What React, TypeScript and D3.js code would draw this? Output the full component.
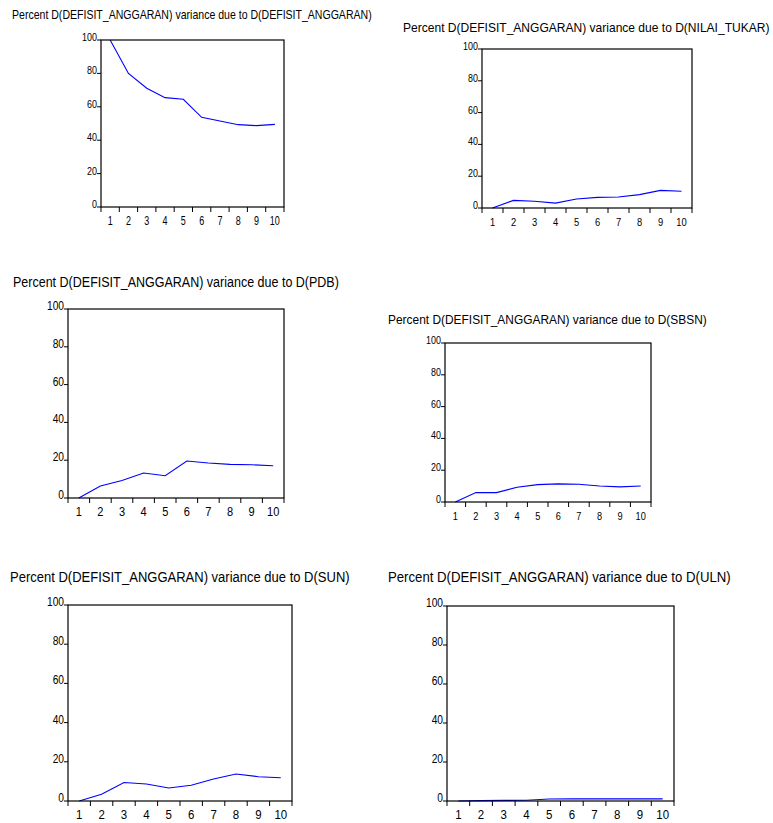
import React from 'react';
import * as d3 from 'd3';

// variance decomposition of D(DEFISIT_ANGGARAN), periods 1..10
const periods = ['1', '2', '3', '4', '5', '6', '7', '8', '9', '10'];
const yTicks = [0, 20, 40, 60, 80, 100];

const shockDefisit = [100, 80.0, 71.1, 65.5, 64.5, 53.7, 51.5, 49.3, 48.7, 49.5];
const shockNilaiTukar = [0, 4.8, 4.2, 3.1, 5.7, 6.7, 6.9, 8.4, 11.1, 10.5];
const shockPdb = [0, 6.3, 9.3, 13.2, 11.8, 19.6, 18.5, 17.8, 17.6, 17.1];
const shockSbsn = [0, 5.9, 5.9, 9.3, 10.9, 11.4, 11.2, 10.1, 9.5, 10.1];
const shockSun = [0, 3.4, 9.4, 8.7, 6.6, 8.0, 11.2, 13.8, 12.4, 11.9];
const shockUln = [0, 0.2, 0.3, 0.4, 1.0, 1.1, 1.1, 1.1, 1.1, 1.1];

const titles = [
  'Percent D(DEFISIT_ANGGARAN) variance due to D(DEFISIT_ANGGARAN)',
  'Percent D(DEFISIT_ANGGARAN) variance due to D(NILAI_TUKAR)',
  'Percent D(DEFISIT_ANGGARAN) variance due to D(PDB)',
  'Percent D(DEFISIT_ANGGARAN) variance due to D(SBSN)',
  'Percent D(DEFISIT_ANGGARAN) variance due to D(SUN)',
  'Percent D(DEFISIT_ANGGARAN) variance due to D(ULN)',
];
const series = [shockDefisit, shockNilaiTukar, shockPdb, shockSbsn, shockSun, shockUln];

// panel geometry
const layout = [
  { x0: 101, x1: 284, y0: 40, y1: 207, tx: 12, ty: 19, tw: 360, tfs: 13, yfs: 10.5, xfs: 12, xs: 0.75 },
  { x0: 482, x1: 692, y0: 49, y1: 208, tx: 403, ty: 32, tw: 367, tfs: 13, yfs: 10.5, xfs: 11, xs: 0.85 },
  { x0: 68, x1: 284, y0: 309, y1: 498, tx: 13, ty: 287, tw: 326, tfs: 15.5, yfs: 12, xfs: 13, xs: 0.85 },
  { x0: 445, x1: 651, y0: 343, y1: 502, tx: 388, ty: 324, tw: 319, tfs: 13, yfs: 10.5, xfs: 11.5, xs: 0.8 },
  { x0: 68, x1: 292, y0: 605, y1: 801, tx: 10, ty: 582, tw: 340, tfs: 15.5, yfs: 12, xfs: 13.5, xs: 0.85 },
  { x0: 447, x1: 674, y0: 606, y1: 801, tx: 388, ty: 582, tw: 343, tfs: 15.5, yfs: 12, xfs: 13.5, xs: 0.85 },
];

const font = '"Liberation Sans", Arial, sans-serif';

// the titles are drawn in a condensed face, so squeeze them to the width seen
let ctx: CanvasRenderingContext2D | null = null;
function textWidth(s: string, fs: number) {
  if (!ctx) ctx = document.createElement('canvas').getContext('2d');
  if (!ctx) return s.length * fs * 0.55;
  ctx.font = `${fs}px ${font}`;
  return ctx.measureText(s).width;
}

function Panel({ i }: { i: number }) {
  const L = layout[i];
  const data = series[i];
  const x = d3.scaleBand<string>().domain(periods).range([L.x0, L.x1]).padding(0);
  const y = d3.scaleLinear().domain([0, 100]).range([L.y1, L.y0]);
  const line = d3
    .line<number>()
    .x((_, k) => (x(periods[k]) as number) + x.bandwidth() / 2)
    .y((d) => y(d));
  const edges = periods.map((p) => x(p) as number).concat([L.x1]);
  const squeeze = L.tw / textWidth(titles[i], L.tfs);

  return (
    <g>
      <text
        transform={`translate(${L.tx},${L.ty}) scale(${squeeze},1)`}
        fontSize={L.tfs}
        fontFamily={font}
        fill="#000"
      >
        {titles[i]}
      </text>
      <path d={line(data) || ''} fill="none" stroke="#0000ff" strokeWidth={1.1} />
      <rect x={L.x0} y={L.y0} width={L.x1 - L.x0} height={L.y1 - L.y0} fill="none" stroke="#000" strokeWidth={1.2} />
      {yTicks.map((t) => (
        <g key={'y' + t}>
          <line x1={L.x0 - 4} x2={L.x0} y1={y(t)} y2={y(t)} stroke="#000" strokeWidth={1} />
          <text
            transform={`translate(${L.x0 - 4},${y(t) + 1}) scale(0.85,1)`}
            fontSize={L.yfs}
            fontFamily={font}
            textAnchor="end"
            fill="#000"
          >
            {t}
          </text>
        </g>
      ))}
      {edges.map((e, k) => (
        <line key={'xt' + k} x1={e} x2={e} y1={L.y1} y2={L.y1 + 5} stroke="#000" strokeWidth={1} />
      ))}
      {periods.map((p) => (
        <text
          key={'xl' + p}
          transform={`translate(${(x(p) as number) + x.bandwidth() / 2},${L.y1 + 18}) scale(${L.xs},1)`}
          fontSize={L.xfs}
          fontFamily={font}
          textAnchor="middle"
          fill="#000"
        >
          {p}
        </text>
      ))}
    </g>
  );
}

export default function App() {
  return (
    <svg
      width={773}
      height={823}
      style={{ position: 'absolute', left: 0, top: 0, display: 'block', background: '#fff' }}
    >
      <rect width={773} height={823} fill="#fff" />
      {layout.map((_, i) => (
        <Panel key={i} i={i} />
      ))}
    </svg>
  );
}
